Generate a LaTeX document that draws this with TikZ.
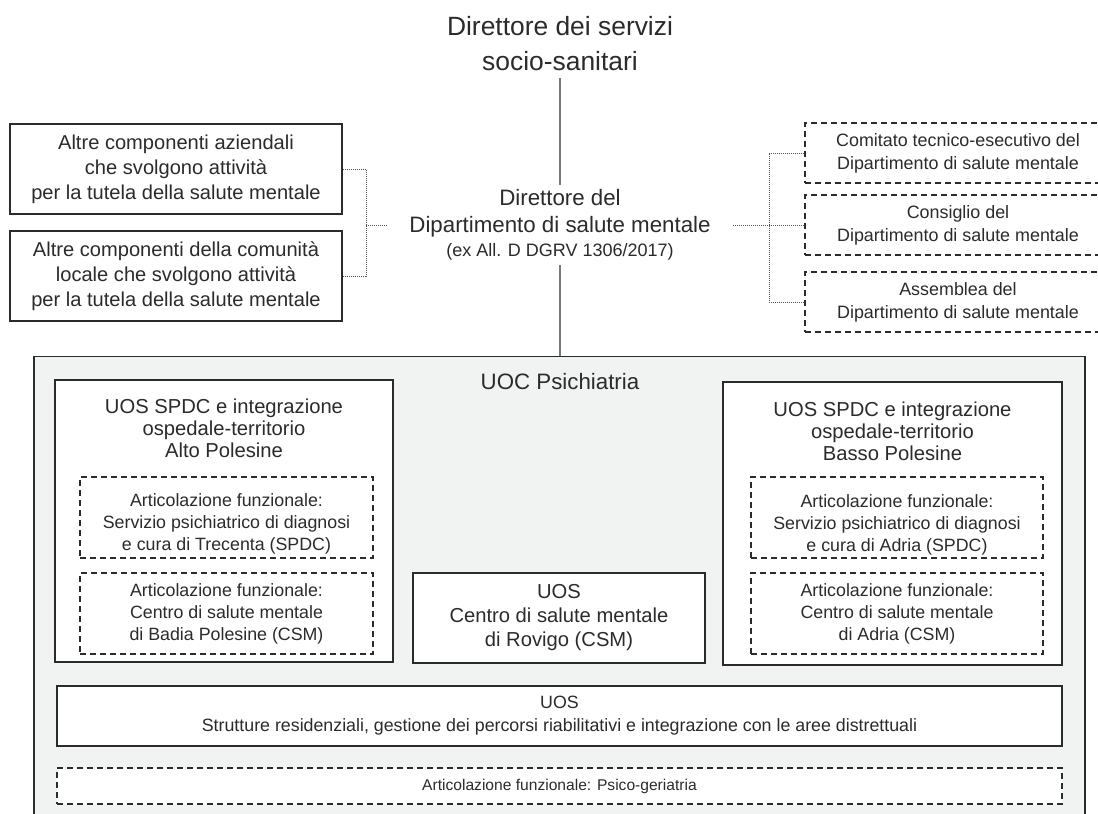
\documentclass[tikz,border=0pt]{standalone}
\usepackage{fontspec}
\setmainfont{Liberation Sans}
\usepackage{tikz}
\usetikzlibrary{positioning}
\definecolor{inkgray}{HTML}{2B2B2B}
\definecolor{linegray}{HTML}{7A7A7A}
\definecolor{dotgray}{HTML}{555555}
\definecolor{panelgray}{HTML}{F1F2F2}

\begin{document}
\begin{tikzpicture}[x=1pt,y=-1pt,
  txt/.style={inner sep=0pt,text=inkgray,align=center},
  solidbox/.style={draw=inkgray,line width=1.3pt,fill=white,inner sep=0pt,text=inkgray,align=center},
  dashbox/.style={draw=inkgray,line width=1.2pt,dash pattern=on 6pt off 4pt,fill=white,inner sep=0pt,text=inkgray,align=center},
  link/.style={draw=linegray,line width=1.2pt},
  dotlink/.style={draw=dotgray,line width=1pt,dash pattern=on 1pt off 1pt},
  fTitle/.style={font=\fontsize{26.4}{35}\selectfont},
  fHead/.style={font=\fontsize{22.3}{27}\selectfont},
  fUos/.style={font=\fontsize{20.2}{22}\selectfont},
  fSide/.style={font=\fontsize{20.1}{25}\selectfont},
  fArt/.style={font=\fontsize{17.8}{22}\selectfont},
  fCom/.style={font=\fontsize{17.9}{23}\selectfont},
  fSmall/.style={font=\fontsize{15.6}{19}\selectfont}]
    \useasboundingbox[fill=white] (0,0) rectangle (1098,814);
    \node[txt,fTitle,minimum height=68pt] (dss) at (560,44) {Direttore dei servizi\\socio-sanitari};
    \node[txt,fHead,minimum height=80pt,minimum width=346pt] (dsm) at (560,225)
        {Direttore del\\Dipartimento di salute mentale\\[-3pt]{\fontsize{18}{22}\selectfont (ex All. D DGRV 1306/2017)}};
    \node[solidbox,fSide,minimum width=332pt,minimum height=90pt] (lb1) at (176,169)
        {Altre componenti aziendali\\che svolgono attività\\per la tutela della salute mentale};
    \node[solidbox,fSide,minimum width=332pt,minimum height=90pt] (lb2) at (176,276)
        {Altre componenti della comunità\\locale che svolgono attività\\per la tutela della salute mentale};
    \node[dashbox,fCom,minimum width=306pt,minimum height=60pt] (rb1) at (958,153)
        {Comitato tecnico-esecutivo del\\Dipartimento di salute mentale};
    \node[dashbox,fCom,minimum width=306pt,minimum height=60pt] (rb2) at (958,225)
        {Consiglio del\\Dipartimento di salute mentale};
    \node[dashbox,fCom,minimum width=306pt,minimum height=60pt] (rb3) at (958,302)
        {Assemblea del\\Dipartimento di salute mentale};
    \coordinate (lj) at (366,225);
    \coordinate (rj) at (769,225);
    \draw[link] (dss) -- (dsm);
    \draw[dotlink] (lb1.east) -| (lj) |- (lb2.east);
    \draw[dotlink] (lj) -- (lj -| dsm.west);
    \draw[dotlink] (rb1.west) -| (rj) |- (rb3.west);
    \draw[dotlink] (dsm.east) -- (rb2.west);
    % UOC Psichiatria
    \node[draw=inkgray,fill=panelgray,line width=1.3pt,inner sep=0pt,minimum width=1051pt,minimum height=480pt,anchor=north] (uoc) at (559.5,356) {};
    \draw[link] (dsm.south) -- (dsm.south |- uoc.north);
    \node[txt,fHead] (uoct) at (560,382) {UOC Psichiatria};
    \node[solidbox,minimum width=338pt,minimum height=282pt] (uosa) at (224,521) {};
    \node[txt,fUos] (uosat) at (224,428) {UOS SPDC e integrazione\\ospedale-territorio\\Alto Polesine};
    \node[dashbox,minimum width=293pt,minimum height=81pt] (afa1) at (226.5,517.5) {};
    \node[txt,fArt] (afa1t) at (226.5,524) {Articolazione funzionale:\\Servizio psichiatrico di diagnosi\\e cura di Trecenta (SPDC)};
    \node[dashbox,fArt,minimum width=293pt,minimum height=81pt] (afa2) at (226.5,613.5)
        {Articolazione funzionale:\\Centro di salute mentale\\di Badia Polesine (CSM)};
    \node[solidbox,minimum width=339pt,minimum height=283pt] (uosb) at (892.5,523.5) {};
    \node[txt,fUos] (uosbt) at (892.5,431) {UOS SPDC e integrazione\\ospedale-territorio\\Basso Polesine};
    \node[dashbox,minimum width=292pt,minimum height=81pt] (afb1) at (897,517.5) {};
    \node[txt,fArt] (afb1t) at (897,525) {Articolazione funzionale:\\Servizio psichiatrico di diagnosi\\e cura di Adria (SPDC)};
    \node[dashbox,fArt,minimum width=292pt,minimum height=81pt] (afb2) at (897,613.5)
        {Articolazione funzionale:\\Centro di salute mentale\\di Adria (CSM)};
    \node[solidbox,font=\fontsize{20.2}{24}\selectfont,minimum width=292pt,minimum height=90pt] (uosc) at (559,618)
        {UOS\\Centro di salute mentale\\di Rovigo (CSM)};
    \node[solidbox,font=\fontsize{17.8}{23}\selectfont,minimum width=1005pt,minimum height=60pt] (uosd) at (559.5,716)
        {UOS\\Strutture residenziali, gestione dei percorsi riabilitativi e integrazione con le aree distrettuali};
    \node[dashbox,fSmall,minimum width=1005pt,minimum height=36pt] (afpg) at (559.5,786)
        {Articolazione funzionale: Psico-geriatria};
\end{tikzpicture}
\end{document}
